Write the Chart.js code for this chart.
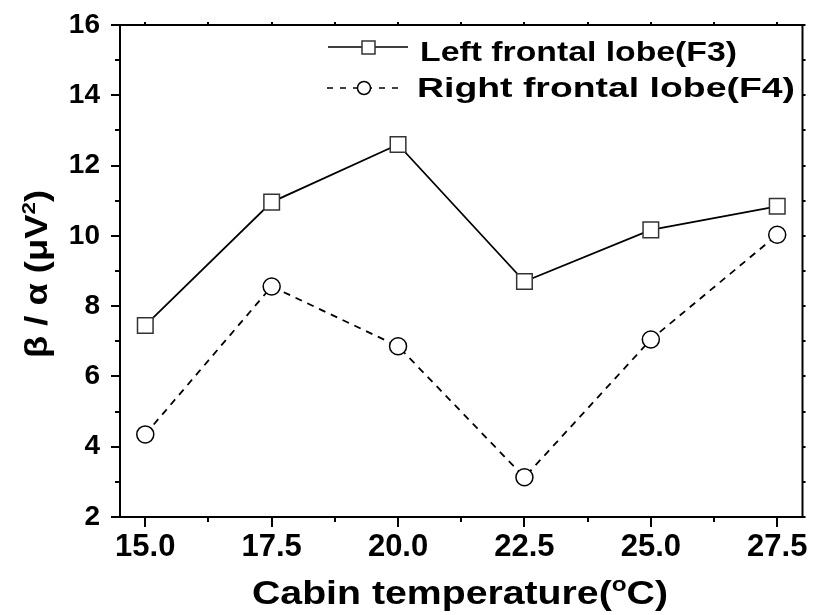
<!DOCTYPE html>
<html lang="en">
<head>
    <meta charset="UTF-8">
    <title>Beta / alpha vs cabin temperature</title>
    <script src="https://cdn.jsdelivr.net/npm/chart.js"></script>
    <style>
        body {
            margin: 0;
            background: #ffffff;
            overflow: hidden;
        }
        #chart {
            display: block;
        }
    </style>
</head>
<body>
    <canvas id="chart" width="815" height="615"></canvas>

    <script>
        // values
        const temperatures = [15.0, 17.5, 20.0, 22.5, 25.0, 27.5];
        const leftF3 = [7.45, 10.96, 12.6, 8.7, 10.17, 10.84];
        const rightF4 = [4.35, 8.56, 6.86, 3.13, 7.05, 10.03];

        const seriesNames = ['Left frontal lobe(F3)', 'Right frontal lobe(F4)'];

        // axis ticks
        const xTicks = [15.0, 17.5, 20.0, 22.5, 25.0, 27.5];
        const xMinorTicks = [16.25, 18.75, 21.25, 23.75, 26.25];
        const yTicks = [2, 4, 6, 8, 10, 12, 14, 16];
        const yMinorTicks = [3, 5, 7, 9, 11, 13, 15];

        const toPoints = (xs, ys) => xs.map((x, i) => ({ x: x, y: ys[i] }));

        // draw text along its baseline, squeezed/stretched to a given width
        function drawRich(ctx, parts, size, weight, width) {
            let total = 0;
            parts.forEach(p => {
                ctx.font = weight + ' ' + (p.sup ? size * 0.62 : size) + 'px "Liberation Sans", Arial, sans-serif';
                p.w = ctx.measureText(p.t).width;
                total += p.w;
            });
            ctx.scale(width / total, 1);
            let x = -total / 2;
            parts.forEach(p => {
                ctx.font = weight + ' ' + (p.sup ? size * 0.62 : size) + 'px "Liberation Sans", Arial, sans-serif';
                ctx.fillText(p.t, x, p.sup ? -size * 0.38 : 0);
                x += p.w;
            });
        }

        function drawLabel(ctx, text, x, y, size, width) {
            ctx.save();
            ctx.font = 'bold ' + size + 'px "Liberation Sans", Arial, sans-serif';
            const w = ctx.measureText(text).width;
            ctx.translate(x, y);
            ctx.scale(width / w, 1);
            ctx.fillText(text, 0, 0);
            ctx.restore();
        }

        const framePlugin = {
            id: 'frame',
            afterDraw(chart) {
                const ctx = chart.ctx;
                const area = chart.chartArea;
                const xs = chart.scales.x;
                const ys = chart.scales.y;

                ctx.save();
                ctx.strokeStyle = '#000';
                ctx.fillStyle = '#000';
                ctx.lineWidth = 2;
                ctx.strokeRect(area.left, area.top, area.right - area.left, area.bottom - area.top);

                ctx.beginPath();
                yTicks.concat(yMinorTicks).forEach(v => {
                    const py = Math.round(ys.getPixelForValue(v));
                    const len = yTicks.includes(v) ? 9 : 5;
                    ctx.moveTo(area.left - len, py);
                    ctx.lineTo(area.left, py);
                    ctx.moveTo(area.right, py);
                    ctx.lineTo(area.right + 3, py);
                });
                xTicks.concat(xMinorTicks).forEach(v => {
                    const px = Math.round(xs.getPixelForValue(v));
                    const len = xTicks.includes(v) ? 10 : 5;
                    ctx.moveTo(px, area.bottom);
                    ctx.lineTo(px, area.bottom + len);
                    ctx.moveTo(px, area.top - 3);
                    ctx.lineTo(px, area.top);
                });
                ctx.stroke();

                // axis titles
                ctx.textAlign = 'left';
                ctx.textBaseline = 'alphabetic';
                ctx.save();
                ctx.translate(460, 604);
                drawRich(ctx, [
                    { t: 'Cabin temperature(' },
                    { t: 'o', sup: true },
                    { t: 'C)' }
                ], 34, 'bold', 416);
                ctx.restore();

                ctx.save();
                ctx.translate(47, 274);
                ctx.rotate(-Math.PI / 2);
                drawRich(ctx, [
                    { t: '\u03B2 / \u03B1 (\u03BCV' },
                    { t: '2', sup: true },
                    { t: ')' }
                ], 31, 'bold', 168);
                ctx.restore();

                // legend
                ctx.lineWidth = 1.5;
                ctx.beginPath();
                ctx.moveTo(328, 47);
                ctx.lineTo(408, 47);
                ctx.stroke();
                ctx.fillStyle = '#fff';
                ctx.fillRect(362, 41, 13, 13);
                ctx.strokeStyle = '#333';
                ctx.strokeRect(362, 41, 13, 13);

                ctx.strokeStyle = '#000';
                ctx.setLineDash([6, 7]);
                ctx.beginPath();
                ctx.moveTo(327, 88);
                ctx.lineTo(400, 88);
                ctx.stroke();
                ctx.setLineDash([]);
                ctx.beginPath();
                ctx.arc(364, 88, 6.5, 0, Math.PI * 2);
                ctx.fill();
                ctx.stroke();

                ctx.fillStyle = '#000';
                drawLabel(ctx, seriesNames[0], 420, 61, 27, 317);
                drawLabel(ctx, seriesNames[1], 417, 97, 27, 378);
                ctx.restore();
            }
        };

        new Chart(document.getElementById('chart'), {
            type: 'line',
            data: {
                datasets: [{
                    label: seriesNames[0],
                    data: toPoints(temperatures, leftF3),
                    borderColor: '#000',
                    borderWidth: 1.8,
                    pointStyle: 'rect',
                    pointRadius: 11,
                    pointBorderWidth: 1.5,
                    pointBorderColor: '#333',
                    pointBackgroundColor: '#fff',
                    tension: 0
                }, {
                    label: seriesNames[1],
                    data: toPoints(temperatures, rightF4),
                    borderColor: '#000',
                    borderWidth: 1.8,
                    borderDash: [7, 6],
                    pointStyle: 'circle',
                    pointRadius: 8.5,
                    pointBorderWidth: 1.5,
                    pointBorderColor: '#000',
                    pointBackgroundColor: '#fff',
                    tension: 0
                }]
            },
            options: {
                responsive: false,
                animation: false,
                devicePixelRatio: 1,
                layout: {
                    padding: { left: 0, right: 12, top: 25, bottom: 0 }
                },
                plugins: {
                    legend: { display: false },
                    tooltip: { enabled: false }
                },
                scales: {
                    x: {
                        type: 'linear',
                        min: 14.5,
                        max: 28,
                        afterBuildTicks: scale => {
                            scale.ticks = xTicks.map(v => ({ value: v }));
                        },
                        afterFit: scale => {
                            scale.height = 98;
                            scale.paddingLeft = 0;
                            scale.paddingRight = 0;
                        },
                        grid: { display: false, drawTicks: false },
                        border: { display: false },
                        ticks: {
                            color: '#000',
                            padding: 12,
                            maxRotation: 0,
                            font: { family: '"Liberation Sans", Arial, sans-serif', size: 31, weight: 'bold' },
                            callback: v => Number(v).toFixed(1)
                        }
                    },
                    y: {
                        min: 2,
                        max: 16,
                        afterBuildTicks: scale => {
                            scale.ticks = yTicks.map(v => ({ value: v }));
                        },
                        afterFit: scale => {
                            scale.width = 120;
                            scale.paddingTop = 0;
                            scale.paddingBottom = 0;
                        },
                        grid: { display: false, drawTicks: false },
                        border: { display: false },
                        ticks: {
                            color: '#000',
                            padding: 20,
                            font: { family: '"Liberation Sans", Arial, sans-serif', size: 28, weight: 'bold' }
                        }
                    }
                }
            },
            plugins: [framePlugin]
        });
    </script>
</body>
</html>
